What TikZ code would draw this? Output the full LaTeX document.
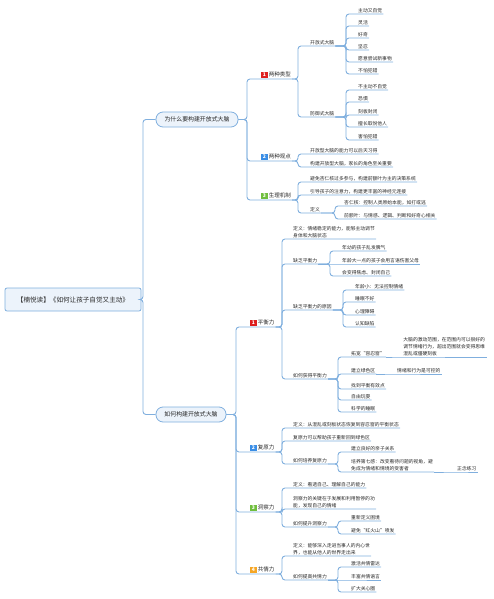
\documentclass[tikz,border=0pt]{standalone}
\usepackage{fontspec}
\setmainfont{Noto Sans CJK SC}
\usetikzlibrary{calc}
\definecolor{linec}{RGB}{128,175,222}
\definecolor{boxfill}{RGB}{236,243,251}
\definecolor{textc}{RGB}{40,40,40}
\definecolor{bdred}{RGB}{222,32,32}
\definecolor{bdblue}{RGB}{58,142,230}
\definecolor{bdgreen}{RGB}{112,190,62}
\definecolor{bdorange}{RGB}{246,166,36}
\newcommand\badge[2]{{\setlength\fboxsep{0.9pt}\colorbox{#1}{\textcolor{white}{\fontsize{5}{5}\selectfont\bfseries\,#2\,}}}}
\newcommand\link[3]{\draw[branch] (#1) -- (#1 -| #2) |- (#3.south west) -- (#3.south east);}
\newcommand\slink[2]{\draw[branch] (#1) -- (#2.south west) -- (#2.south east);}

\begin{document}
\begin{tikzpicture}[x=1pt,y=-1pt,
  branch/.style={draw=linec,line width=0.9pt,rounded corners=3pt},
  leaf/.style={anchor=south west,inner xsep=1pt,inner ysep=1.2pt,text=textc,align=left,font=\fontsize{4.8}{7}\selectfont},
  sub/.style={leaf,font=\fontsize{5.5}{7}\selectfont},
  mainbox/.style={draw=linec,fill=boxfill,line width=0.8pt,rounded corners=7pt,minimum height=15pt,inner xsep=0pt,text=textc,font=\fontsize{5.9}{7}\selectfont},
  rootbox/.style={mainbox,rounded corners=2pt,minimum height=23pt,font=\fontsize{6.6}{8}\selectfont}]
  \useasboundingbox (0,0) rectangle (493,599);
  %%%%% FORKS %%%%%
  \coordinate (fR) at (143,0);
  \coordinate (fA) at (247,0);
  \coordinate (fB) at (236,0);
  \coordinate (fS) at (298,0);
  \coordinate (fL) at (346,0);
  \coordinate (fD) at (335,0);
  \coordinate (fT) at (282,0);
  \coordinate (fQ) at (330,0);
  \coordinate (fY) at (343,0);
  \coordinate (fH) at (338,0);

  %%%%% ROOT %%%%%
  \node[rootbox,minimum width=136pt] (root) at (73,299.5) {【楠悦读】《如何让孩子自觉又主动》};
  \node[mainbox,minimum width=82pt] (A) at (197,119.5) {为什么要构建开放式大脑};
  \node[mainbox,minimum width=70pt] (B) at (191,414.5) {如何构建开放式大脑};
  \draw[branch] (root.east) -- (root.east -| fR) |- (A.west);
  \draw[branch] (root.east) -- (root.east -| fR) |- (B.west);

  %%%%% WHY %%%%%
  \node[sub] (a1) at (260,79) {\badge{bdred}{1} 两种类型};
  \node[sub] (a2) at (260,161) {\badge{bdblue}{2} 两种观点};
  \node[sub] (a3) at (260,200) {\badge{bdgreen}{3} 生理机制};
  \link{A.east}{fA}{a1}
  \link{A.east}{fA}{a2}
  \link{A.east}{fA}{a3}

  \node[leaf] (open) at (309,46) {开放式大脑};
  \node[leaf] (guard) at (309,117) {防御式大脑};
  \link{a1.south east}{fS}{open}
  \link{a1.south east}{fS}{guard}

  \node[leaf] (o1) at (357,14) {主动又自觉};
  \node[leaf] (o2) at (357,26) {灵活};
  \node[leaf] (o3) at (357,38) {好奇};
  \node[leaf] (o4) at (357,50) {坚忍};
  \node[leaf] (o5) at (357,62) {愿意尝试新事物};
  \node[leaf] (o6) at (357,74) {不怕犯错};
  \link{open.south east}{fL}{o1}
  \link{open.south east}{fL}{o2}
  \link{open.south east}{fL}{o3}
  \link{open.south east}{fL}{o4}
  \link{open.south east}{fL}{o5}
  \link{open.south east}{fL}{o6}

  \node[leaf] (g1) at (357,90) {不主动不自觉};
  \node[leaf] (g2) at (357,102) {恐惧};
  \node[leaf] (g3) at (357,115) {刻板封闭};
  \node[leaf] (g4) at (357,127) {擅长取悦他人};
  \node[leaf] (g5) at (357,140) {害怕犯错};
  \link{guard.south east}{fL}{g1}
  \link{guard.south east}{fL}{g2}
  \link{guard.south east}{fL}{g3}
  \link{guard.south east}{fL}{g4}
  \link{guard.south east}{fL}{g5}

  \node[leaf] (v1) at (309,154) {开放型大脑的能力可以后天习得};
  \node[leaf] (v2) at (309,167) {构建开放型大脑，家长的角色至关重要};
  \link{a2.south east}{fS}{v1}
  \link{a2.south east}{fS}{v2}

  \node[leaf] (m1) at (309,182) {避免杏仁核过多参与，构建前额叶为主的决策系统};
  \node[leaf] (m2) at (309,195) {引导孩子的注意力，构建更丰富的神经元连接};
  \node[leaf] (mdef) at (309,213) {定义};
  \link{a3.south east}{fS}{m1}
  \link{a3.south east}{fS}{m2}
  \link{a3.south east}{fS}{mdef}
  \node[leaf] (amy) at (343,206) {杏仁核：控制人类原始本能，如打或逃};
  \node[leaf] (pfc) at (343,219) {前额叶：与情感、逻辑、判断和好奇心相关};
  \link{mdef.south east}{fD}{amy}
  \link{mdef.south east}{fD}{pfc}

  %%%%% HOW %%%%%
  \node[sub] (b1) at (249,327) {\badge{bdred}{1} 平衡力};
  \node[sub] (b2) at (249,452) {\badge{bdblue}{2} 复原力};
  \node[sub] (b3) at (249,512) {\badge{bdgreen}{3} 洞察力};
  \node[sub] (b4) at (249,574) {\badge{bdorange}{4} 共情力};
  \link{B.east}{fB}{b1}
  \link{B.east}{fB}{b2}
  \link{B.east}{fB}{b3}
  \link{B.east}{fB}{b4}

  % balance
  \node[leaf] (bdef) at (292,239) {定义：情绪稳定的能力，能够主动调节\\身体和大脑状态};
  \node[leaf] (lack) at (292,264) {缺乏平衡力};
  \node[leaf] (cause) at (292,310) {缺乏平衡力的原因};
  \node[leaf] (gain) at (292,379) {如何获得平衡力};
  \link{b1.south east}{fT}{bdef}
  \link{b1.south east}{fT}{lack}
  \link{b1.south east}{fT}{cause}
  \link{b1.south east}{fT}{gain}

  \node[leaf] (l1) at (341,251) {年幼的孩子乱发脾气};
  \node[leaf] (l2) at (341,264) {年龄大一点的孩子会用言语伤害父母};
  \node[leaf] (l3) at (341,276) {会变得焦虑、封闭自己};
  \link{lack.south east}{fQ}{l1}
  \slink{lack.south east}{l2}
  \link{lack.south east}{fQ}{l3}

  \node[leaf] (c1) at (354,290) {年龄小：无法控制情绪};
  \node[leaf] (c2) at (354,302) {睡眠不好};
  \node[leaf] (c3) at (354,315) {心理障碍};
  \node[leaf] (c4) at (354,327) {认知缺陷};
  \link{cause.south east}{fY}{c1}
  \link{cause.south east}{fY}{c2}
  \link{cause.south east}{fY}{c3}
  \link{cause.south east}{fY}{c4}

  \node[leaf] (w1) at (350,357) {拓宽“容忍窗”};
  \node[leaf] (w2) at (350,374) {建立绿色区};
  \node[leaf] (w3) at (350,389) {找到平衡有效点};
  \node[leaf] (w4) at (350,400) {自由玩耍};
  \node[leaf] (w5) at (350,412) {科学的睡眠};
  \link{gain.south east}{fH}{w1}
  \link{gain.south east}{fH}{w2}
  \link{gain.south east}{fH}{w3}
  \link{gain.south east}{fH}{w4}
  \link{gain.south east}{fH}{w5}
  \node[leaf,minimum width=86pt] (win) at (401,357) {大脑的激动范围，在范围内可以很好的\\调节情绪行为，超出范围就会变得思维\\混乱或僵硬刻板};
  \node[leaf] (green) at (396,374) {情绪和行为是可控的};
  \slink{w1.south east}{win}
  \slink{w2.south east}{green}

  % resilience
  \node[leaf] (rdef) at (292,428) {定义：从混乱或刻板状态恢复到容忍窗的平衡状态};
  \node[leaf] (rback) at (292,441) {复原力可以帮助孩子重新回到绿色区};
  \node[leaf] (rgrow) at (292,464) {如何培养复原力};
  \link{b2.south east}{fT}{rdef}
  \link{b2.south east}{fT}{rback}
  \link{b2.south east}{fT}{rgrow}
  \node[leaf] (r1) at (350,452) {建立良好的亲子关系};
  \node[leaf] (r2) at (350,472) {培养第七感：改变看待问题的视角，避\\免成为情绪和情境的受害者};
  \link{rgrow.south east}{fH}{r1}
  \link{rgrow.south east}{fH}{r2}
  \node[leaf] (mind) at (456,472) {正念练习};
  \slink{r2.south east}{mind}

  % insight
  \node[leaf] (idef) at (292,488) {定义：看透自己、理解自己的能力};
  \node[leaf] (ikey) at (292,509) {洞察力的关键在于发展和利用暂停的功\\能，发现自己的情绪};
  \node[leaf] (iup) at (292,527) {如何提升洞察力};
  \link{b3.south east}{fT}{idef}
  \link{b3.south east}{fT}{ikey}
  \link{b3.south east}{fT}{iup}
  \node[leaf] (i1) at (350,521) {重新定义困境};
  \node[leaf] (i2) at (350,534) {避免“红火山”喷发};
  \link{iup.south east}{fH}{i1}
  \link{iup.south east}{fH}{i2}

  % empathy
  \node[leaf] (edef) at (292,556) {定义：能够深入走进当事人的内心世\\界，也能从他人的世界走出来};
  \node[leaf] (eup) at (292,580) {如何提高共情力};
  \link{b4.south east}{fT}{edef}
  \link{b4.south east}{fT}{eup}
  \node[leaf] (e1) at (350,567) {激活共情雷达};
  \node[leaf] (e2) at (350,580) {丰富共情语言};
  \node[leaf] (e3) at (350,592) {扩大关心圈};
  \link{eup.south east}{fH}{e1}
  \slink{eup.south east}{e2}
  \link{eup.south east}{fH}{e3}
\end{tikzpicture}
\end{document}
